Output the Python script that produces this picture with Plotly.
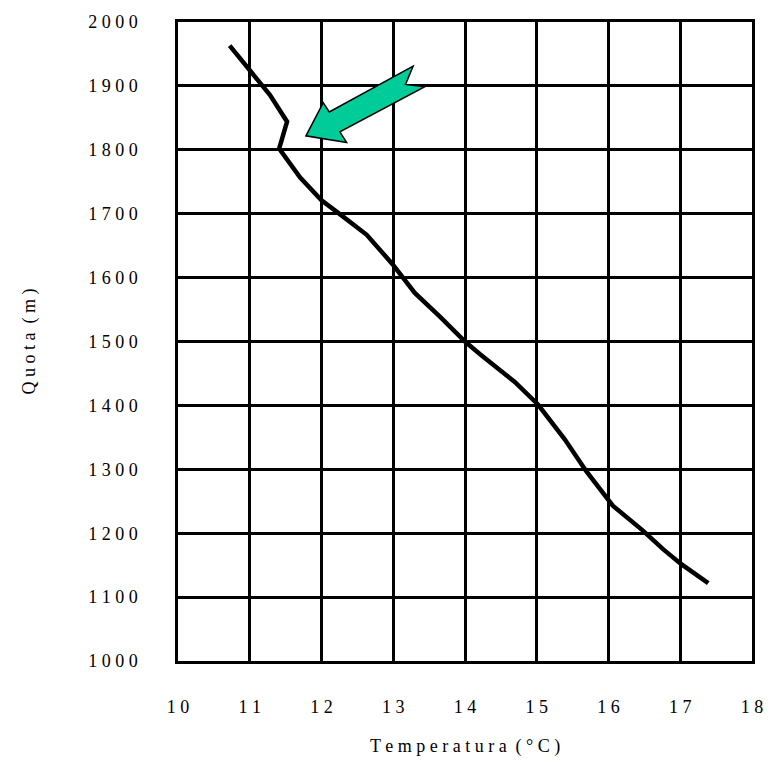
import plotly.graph_objects as go

# Temperature profile data
temperature = [10.72, 11.28, 11.52, 11.41, 11.70, 12.00, 12.26, 12.63, 12.99, 13.30,
               13.65, 14.00, 14.21, 14.69, 15.02, 15.39, 15.69, 16.06, 16.48, 16.76,
               17.01, 17.39]
quota = [1963, 1886, 1844, 1802, 1757, 1721, 1699, 1667, 1621, 1576,
         1539, 1500, 1480, 1437, 1401, 1347, 1297, 1243, 1204, 1175,
         1152, 1122]

x_ticks = list(range(10, 19))
x_ticktext = [" ".join(str(v)) for v in x_ticks]
y_ticks = list(range(1000, 2001, 100))
y_ticktext = [" ".join(str(v)) for v in y_ticks]

# Arrow outline (data coordinates)
arrow_x = [11.783, 12.024, 12.108, 13.277, 13.171, 13.440, 12.256, 12.350]
arrow_y = [1821.9, 1873.8, 1859.3, 1931.0, 1902.3, 1898.7, 1828.1, 1811.4]

font_fam = "Liberation Serif, Times New Roman, serif"

fig = go.Figure()
fig.add_trace(go.Scatter(x=temperature, y=quota, mode="lines",
                         line=dict(color="black", width=4.5), showlegend=False))

path = "M " + " L ".join(f"{x},{y}" for x, y in zip(arrow_x, arrow_y)) + " Z"
fig.add_shape(type="path", path=path, xref="x", yref="y",
              fillcolor="#00CC99", line=dict(color="black", width=1.5))

fig.update_layout(
    width=775, height=762,
    margin=dict(l=178, r=23, t=19, b=101),
    plot_bgcolor="white", paper_bgcolor="white",
    font=dict(family=font_fam, size=18, color="black"),
    annotations=[
        dict(text="T e m p e r a t u r a  ( ° C )", xref="paper", yref="paper",
             x=0.5, y=-0.134, xanchor="center", yanchor="middle",
             showarrow=False, font=dict(family=font_fam, size=18)),
        dict(text="Q u o t a  ( m )", xref="paper", yref="paper",
             x=-0.258, y=0.5, xanchor="center", yanchor="middle", textangle=-90,
             showarrow=False, font=dict(family=font_fam, size=18)),
    ],
)
fig.update_xaxes(range=[10, 18], tickvals=x_ticks, ticktext=x_ticktext,
                 showgrid=True, gridcolor="black", gridwidth=2.5,
                 showline=True, linecolor="black", linewidth=2.5, mirror=True,
                 zeroline=False, ticks="", ticklabelstandoff=28)
fig.update_yaxes(range=[1000, 2000], tickvals=y_ticks, ticktext=y_ticktext,
                 showgrid=True, gridcolor="black", gridwidth=2.5,
                 showline=True, linecolor="black", linewidth=2.5, mirror=True,
                 zeroline=False, ticks="", ticklabelstandoff=34)

fig.write_html("out.html")
